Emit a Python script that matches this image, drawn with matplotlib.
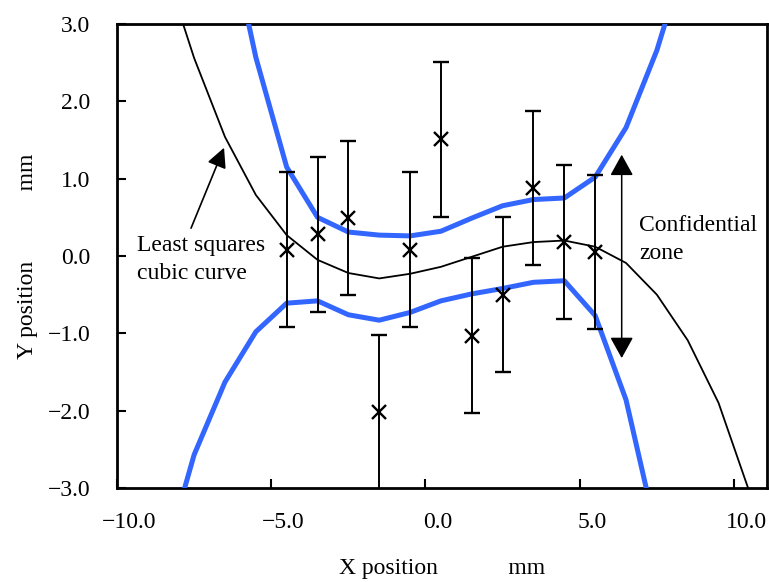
import matplotlib
matplotlib.use('Agg')
import matplotlib.pyplot as plt
import matplotlib.transforms as mtransforms

# measured points (x marks) with +-1 error bars
pt_x = [-4.5, -3.5, -2.5, -1.5, -0.5, 0.5, 1.5, 2.5, 3.5, 4.5, 5.5]
pt_y = [0.08, 0.28, 0.49, -2.02, 0.08, 1.51, -1.03, -0.50, 0.88, 0.18, 0.05]
pt_err = [1.0] * len(pt_x)

# least squares cubic curve
fit_x = [-8.5, -7.5, -6.5, -5.5, -4.5, -3.5, -2.5, -1.5, -0.5, 0.5,
         1.5, 2.5, 3.5, 4.5, 5.5, 6.5, 7.5, 8.5, 9.5, 10.5]
fit_y = [3.79, 2.56, 1.54, 0.79, 0.27, -0.05, -0.22, -0.29, -0.23, -0.14,
         -0.01, 0.12, 0.18, 0.20, 0.12, -0.09, -0.50, -1.09, -1.90, -3.05]

# confidential zone limits
up_x = [-6.5, -5.5, -4.5, -3.5, -2.5, -1.5, -0.5, 0.5, 1.5, 2.5, 3.5, 4.5, 5.5, 6.5, 7.5, 8.5]
up_y = [4.42, 2.57, 1.15, 0.50, 0.31, 0.27, 0.26, 0.32, 0.49, 0.65, 0.73, 0.75, 1.02, 1.66, 2.66, 3.96]
lo_x = [-8.5, -7.5, -6.5, -5.5, -4.5, -3.5, -2.5, -1.5, -0.5, 0.5, 1.5, 2.5, 3.5, 4.5, 5.5, 6.5, 7.5]
lo_y = [-3.97, -2.57, -1.63, -0.98, -0.61, -0.58, -0.76, -0.83, -0.73, -0.58, -0.49, -0.42, -0.34, -0.32, -0.77, -1.86, -3.6]

xticks = [-10, -5, 0, 5, 10]
xticklabels = ['\u221210.0', '\u22125.0', '0.0', '5.0', '10.0']
yticks = [-3, -2, -1, 0, 1, 2, 3]
yticklabels = ['\u22123.0', '\u22122.0', '\u22121.0', '0.0', '1.0', '2.0', '3.0']

plt.rcParams['font.family'] = ['Liberation Serif', 'DejaVu Serif']
FS = 17
blue = '#3366ff'

fig = plt.figure(figsize=(7.69, 5.82), dpi=100)
ax = fig.add_axes([117 / 769, 94 / 582, 650 / 769, 464 / 582])

ax.plot(fit_x, fit_y, color='black', lw=1.3, zorder=2)
ax.plot(up_x, up_y, color=blue, lw=3.6, zorder=3)
ax.plot(lo_x, lo_y, color=blue, lw=3.6, zorder=3)
ax.errorbar(pt_x, pt_y, yerr=pt_err, fmt='x', color='black', ms=10, mew=1.7,
            elinewidth=1.4, capsize=5.5, capthick=1.4, zorder=4)

ax.set_xlim(-10, 11.07)
ax.set_ylim(-3, 3)
ax.set_xticks(xticks)
ax.set_xticklabels(xticklabels)
ax.set_yticks(yticks)
ax.set_yticklabels(yticklabels)
ax.tick_params(direction='in', length=6.5, width=1.5, labelsize=FS)
ax.tick_params(axis='x', pad=17)
ax.tick_params(axis='y', pad=19)
for s in ax.spines.values():
    s.set_linewidth(2.0)

# excel-like shift of x tick labels to the right
shift = mtransforms.ScaledTranslation(12 / 100, 0, fig.dpi_scale_trans)
for lab in ax.get_xticklabels():
    lab.set_transform(lab.get_transform() + shift)

ax.set_xlabel('X position            mm', fontsize=FS, labelpad=18)
ax.set_ylabel('Y position            mm', fontsize=FS, labelpad=7)

# annotations
ax.text(-9.35, -0.05, 'Least squares\ncubic curve', fontsize=FS, ha='left', va='center',
        linespacing=1.45)
ax.annotate('', xy=(-6.53, 1.40), xytext=(-7.6, 0.36),
            arrowprops=dict(arrowstyle='-|>,head_length=1.2,head_width=0.6', mutation_scale=10,
                            color='black', lw=1.2, shrinkA=0, shrinkB=0))
ax.annotate('', xy=(6.36, 1.31), xytext=(6.36, -1.32),
            arrowprops=dict(arrowstyle='<|-|>,head_length=1.3,head_width=0.72', mutation_scale=10,
                            color='black', lw=1.1, shrinkA=0, shrinkB=0))
ax.text(6.92, 0.21, 'Confidential\nzone', fontsize=FS, ha='left', va='center', linespacing=1.45)

fig.savefig('out.png', dpi=100)
